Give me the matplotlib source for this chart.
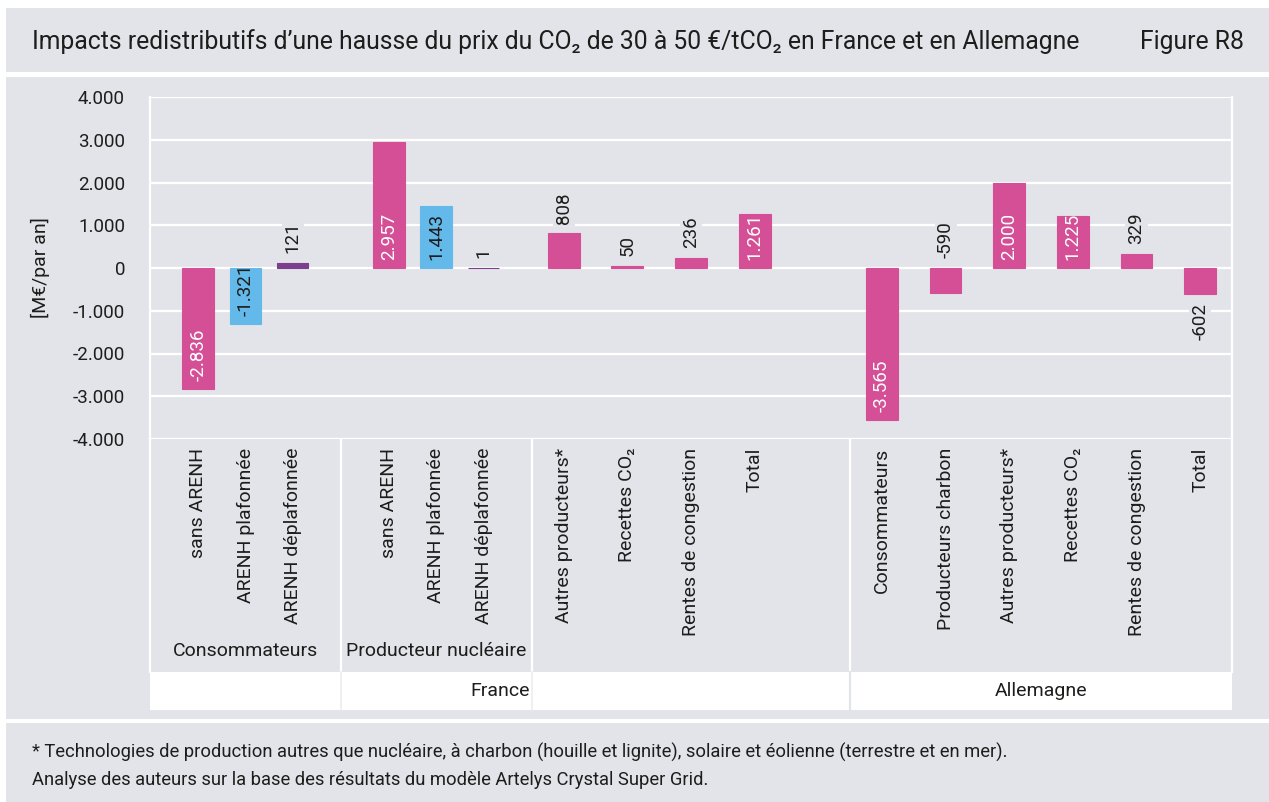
import matplotlib.pyplot as plt
from matplotlib.patches import Rectangle
import numpy as np

W, H = 1269, 802
BG = '#e3e4e9'
PINK, BLUE, PURPLE = '#d44f95', '#63b9e9', '#7b3f8e'
TXT = '#1d1d1b'

plt.rcParams['font.family'] = ['Roboto', 'DejaVu Sans']

title = 'Impacts redistributifs d’une hausse du prix du CO₂ de 30 à 50 €/tCO₂ en France et en Allemagne'

# France - consommateurs / producteur nucleaire (3 ARENH variants each)
arenh_labels = ['sans ARENH', 'ARENH plafonnée', 'ARENH déplafonnée']
arenh_colors = [PINK, BLUE, PURPLE]
cons_vals = [-2836, -1321, 121]
prod_vals = [2957, 1443, 1]

# France - other actors
fr_labels = ['Autres producteurs*', 'Recettes CO₂', 'Rentes de congestion', 'Total']
fr_vals = [808, 50, 236, 1261]

# Allemagne
de_labels = ['Consommateurs', 'Producteurs charbon', 'Autres producteurs*',
             'Recettes CO₂', 'Rentes de congestion', 'Total']
de_vals = [-3565, -590, 2000, 1225, 329, -602]

footnotes = ['* Technologies de production autres que nucléaire, à charbon (houille et lignite), solaire et éolienne (terrestre et en mer).',
             'Analyse des auteurs sur la base des résultats du modèle Artelys Crystal Super Grid.']

# label placement modes (Excel-like)
cons_modes = ['in', 'in', 'out']
prod_modes = ['in', 'in', 'out']
fr_modes = ['out', 'out', 'out', 'in']
de_modes = ['in', 'out', 'in', 'in', 'out', 'below']


def fx(px):
    return px / W


def fy(py):
    return 1 - py / H


def band(x0, y0, x1, y1, color):
    fig.patches.append(Rectangle((fx(x0), fy(y1)), fx(x1) - fx(x0), fy(y0) - fy(y1),
                                 transform=fig.transFigure, facecolor=color,
                                 edgecolor='none', zorder=0))


def fmt(v):
    return f'{v:,}'.replace(',', '.')


fig = plt.figure(figsize=(W / 100, H / 100), dpi=100, facecolor=BG)
band(0, 0, W, 8, 'white')
band(0, 0, 6, H, 'white')
band(6, 72, W, 77, 'white')
band(6, 719, W, 723, 'white')

fig.text(fx(32), fy(42), title, fontsize=17.8, va='center', ha='left', color=TXT)
fig.text(fx(1244), fy(42), 'Figure R8', fontsize=17.8, va='center', ha='right', color=TXT)
fig.text(fx(40), fy(268), '[M€/par an]', rotation=90, fontsize=14, va='center', ha='center', color=TXT)
fig.text(fx(32), fy(752), footnotes[0], fontsize=13.2, va='center', ha='left', color=TXT)
fig.text(fx(32), fy(780), footnotes[1], fontsize=13.2, va='center', ha='left', color=TXT)

# main chart
ax = fig.add_axes([fx(150), fy(439), fx(1232) - fx(150), fy(97) - fy(439)])
ax.set_facecolor(BG)
ax.set_xlim(0, 17)
ax.set_ylim(-4000, 4000)
ax.set_yticks(np.arange(-4000, 4001, 1000))
ax.yaxis.set_major_formatter(lambda v, p: fmt(int(v)))
ax.grid(axis='y', color='white', lw=1.6)
ax.set_axisbelow(True)
ax.tick_params(axis='y', length=0, pad=18, labelsize=13.5, labelcolor=TXT)
ax.set_xticks([])
for s in ax.spines.values():
    s.set_visible(False)
ax.axvline(0, color='white', lw=1.6, clip_on=False, zorder=0)
ax.axvline(17, color='white', lw=1.6, clip_on=False, zorder=0)

off3 = np.array([-0.74, 0, 0.74])
pos_cons = 1.5 + off3
pos_prod = 4.5 + off3
pos_fr = 6.5 + np.arange(len(fr_vals))
pos_de = 11.5 + np.arange(len(de_vals))

bw = 0.5
ax.bar(pos_cons, cons_vals, width=bw, color=arenh_colors, edgecolor=arenh_colors, lw=0.8, zorder=2)
ax.bar(pos_prod, prod_vals, width=bw, color=arenh_colors, edgecolor=arenh_colors, lw=0.8, zorder=2)
ax.bar(pos_fr, fr_vals, width=bw, color=PINK, edgecolor=PINK, lw=0.8, zorder=2)
ax.bar(pos_de, de_vals, width=bw, color=PINK, edgecolor=PINK, lw=0.8, zorder=2)


def label(x, v, mode, barcolor):
    if mode == 'in':
        y, off, va = min(v, 0), 6, 'bottom'
        col = TXT if barcolor == BLUE else 'white'
        box = None
    elif mode == 'out':
        y, off, va = max(v, 0), 7, 'bottom'
        col = TXT
        box = dict(facecolor=BG, edgecolor='none', pad=1.5)
    else:
        y, off, va = v, -7, 'top'
        col = TXT
        box = dict(facecolor=BG, edgecolor='none', pad=1.5)
    ax.annotate(fmt(v), (x, y), xytext=(0, off), textcoords='offset points',
                rotation=90, ha='center', va=va, color=col, fontsize=13.5,
                bbox=box, zorder=3)


for x, v, m, c in zip(pos_cons, cons_vals, cons_modes, arenh_colors):
    label(x, v, m, c)
for x, v, m, c in zip(pos_prod, prod_vals, prod_modes, arenh_colors):
    label(x, v, m, c)
for x, v, m in zip(pos_fr, fr_vals, fr_modes):
    label(x, v, m, PINK)
for x, v, m in zip(pos_de, de_vals, de_modes):
    label(x, v, m, PINK)

# multi-level category axis
tab = fig.add_axes([fx(150), fy(710), fx(1232) - fx(150), fy(439) - fy(710)])
tab.set_xlim(0, 17)
tab.set_ylim(710, 439)
tab.axis('off')
tab.add_patch(Rectangle((0, 672), 17, 38, facecolor='white', edgecolor='none'))
for x in [0, 3, 6, 11, 17]:
    tab.plot([x, x], [439, 672], color='white', lw=1.6, clip_on=False)
for x in [3, 6]:
    tab.plot([x, x], [672, 710], color='#eeeef1', lw=1.2, clip_on=False)
tab.plot([11, 11], [672, 710], color=BG, lw=1.6, clip_on=False)

all_pos = list(pos_cons) + list(pos_prod) + list(pos_fr) + list(pos_de)
all_labels = arenh_labels + arenh_labels + fr_labels + de_labels
for x, lab in zip(all_pos, all_labels):
    tab.text(x, 448, lab, rotation=90, ha='center', va='top', fontsize=14, color=TXT)

tab.text(1.5, 651, 'Consommateurs', ha='center', va='center', fontsize=14, color=TXT)
tab.text(4.5, 651, 'Producteur nucléaire', ha='center', va='center', fontsize=14, color=TXT)
tab.text(5.5, 691, 'France', ha='center', va='center', fontsize=14, color=TXT)
tab.text(14, 691, 'Allemagne', ha='center', va='center', fontsize=14, color=TXT)

fig.savefig('out.png', dpi=100, facecolor=fig.get_facecolor())
